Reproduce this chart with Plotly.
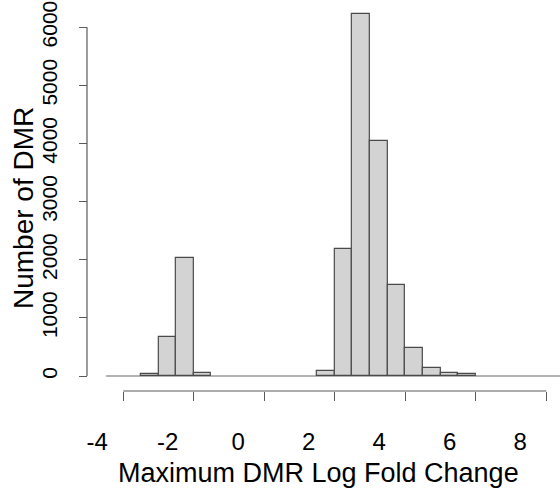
import plotly.graph_objects as go

# Histogram bins (left edges, width 0.5) and counts
bin_left = [-3.5, -3.0, -2.5, -2.0, 1.5, 2.0, 2.5, 3.0, 3.5, 4.0, 4.5, 5.0, 5.5]
counts = [40, 677, 2036, 57, 91, 2180, 6224, 4045, 1566, 487, 143, 57, 34]
bin_width = 0.5

x_ticks = [-4, -2, 0, 2, 4, 6, 8]
y_ticks = [0, 1000, 2000, 3000, 4000, 5000, 6000]

x_title = "Maximum DMR Log Fold Change"
y_title = "Number of DMR"

centers = [b + bin_width / 2 for b in bin_left]

font_family = "Liberation Sans, Arial, Helvetica, sans-serif"
axis_col = "#5a5a5a"

W, H = 560, 489
ML, MB = 87, 98
PW, PH = W - ML, H - MB


def px_x(p):
    return (p - ML) / PW


def px_y(p):
    return (PH - p) / PH


fig = go.Figure()
fig.add_trace(go.Bar(
    x=centers, y=counts, width=bin_width,
    marker=dict(color="#d3d3d3", line=dict(color="#4a4a4a", width=1.2)),
    showlegend=False, hoverinfo="x+y",
))

# baseline at zero (drawn across the plot region)
fig.add_shape(type="line", xref="paper", yref="y", x0=0.04, x1=1.0, y0=0, y1=0,
              line=dict(color="#6a6a6a", width=1.2), layer="below")
# R-style axis lines spanning only the tick range
fig.add_shape(type="line", xref="x", yref="paper", x0=x_ticks[0], x1=x_ticks[-1], y0=0, y1=0,
              line=dict(color=axis_col, width=1.2))
fig.add_shape(type="line", xref="paper", yref="y", x0=0, x1=0, y0=y_ticks[0], y1=y_ticks[-1],
              line=dict(color=axis_col, width=1.2))

# axis titles
fig.add_annotation(text=x_title, xref="paper", yref="paper", x=px_x(318), y=px_y(473),
                   xanchor="center", yanchor="middle", showarrow=False,
                   font=dict(size=27, color="black"))
fig.add_annotation(text=y_title, xref="paper", yref="paper", x=px_x(23), y=px_y(208),
                   xanchor="center", yanchor="middle", showarrow=False, textangle=-90,
                   font=dict(size=28, color="black"))

fig.update_layout(
    width=W, height=H,
    margin=dict(l=ML, r=0, t=0, b=MB, autoexpand=False),
    plot_bgcolor="white", paper_bgcolor="white",
    font=dict(family=font_family, color="black"),
    bargap=0,
    xaxis=dict(
        domain=[0.04, 1.0],
        range=[-4.491, 8.389],
        automargin=False,
        tickmode="array", tickvals=x_ticks, ticktext=[str(v) for v in x_ticks],
        ticks="outside", ticklen=9, tickwidth=1.2, tickcolor=axis_col,
        showline=False, showgrid=False, zeroline=False,
        tickfont=dict(size=24),
        ticklabelstandoff=20, ticklabelshift=-26,
    ),
    yaxis=dict(
        anchor="free", position=0,
        range=[-258, 6469],
        automargin=False,
        tickmode="array", tickvals=y_ticks, ticktext=[str(v) for v in y_ticks],
        ticks="outside", ticklen=8, tickwidth=1.2, tickcolor=axis_col,
        showline=False, showgrid=False, zeroline=False,
        tickangle=-90,
        tickfont=dict(size=21),
        ticklabelstandoff=14,
    ),
)

fig.write_html(
    "out.html",
    config={"displayModeBar": False},
    post_script="document.body.style.margin='0';document.body.style.overflow='hidden';",
)
